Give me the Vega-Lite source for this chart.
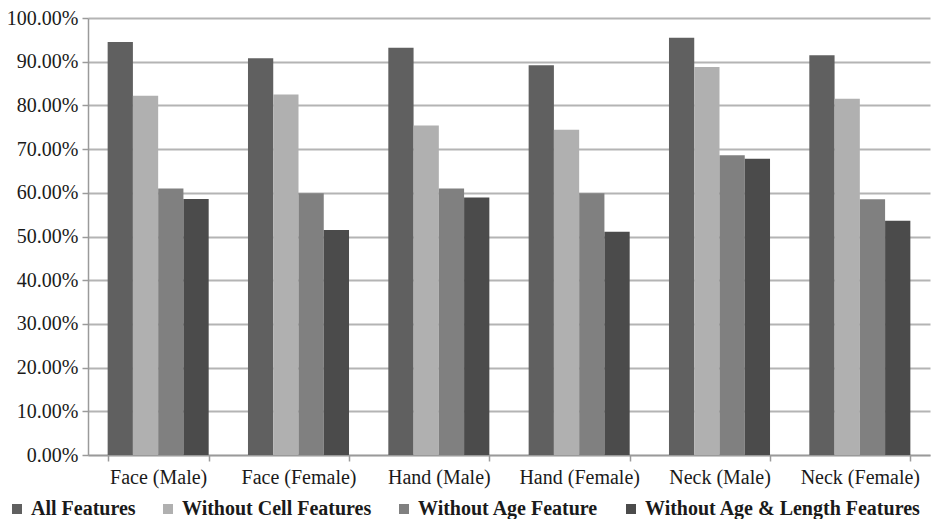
{
  "$schema": "https://vega.github.io/schema/vega-lite/v6.json",
  "autosize": "none",
  "width": 842,
  "height": 437,
  "padding": {"left": 88, "top": 18, "right": 6, "bottom": 64},
  "background": "white",
  "config": {
    "view": {"stroke": null},
    "font": "Liberation Serif"
  },
  "data": {
    "values": [
      {"region": "Face (Male)", "series": "All Features", "value": 0.945},
      {"region": "Face (Male)", "series": "Without Cell Features", "value": 0.822},
      {"region": "Face (Male)", "series": "Without Age Feature", "value": 0.610},
      {"region": "Face (Male)", "series": "Without Age & Length Features", "value": 0.586},
      {"region": "Face (Female)", "series": "All Features", "value": 0.908},
      {"region": "Face (Female)", "series": "Without Cell Features", "value": 0.825},
      {"region": "Face (Female)", "series": "Without Age Feature", "value": 0.599},
      {"region": "Face (Female)", "series": "Without Age & Length Features", "value": 0.515},
      {"region": "Hand (Male)", "series": "All Features", "value": 0.932},
      {"region": "Hand (Male)", "series": "Without Cell Features", "value": 0.754},
      {"region": "Hand (Male)", "series": "Without Age Feature", "value": 0.610},
      {"region": "Hand (Male)", "series": "Without Age & Length Features", "value": 0.589},
      {"region": "Hand (Female)", "series": "All Features", "value": 0.892},
      {"region": "Hand (Female)", "series": "Without Cell Features", "value": 0.744},
      {"region": "Hand (Female)", "series": "Without Age Feature", "value": 0.599},
      {"region": "Hand (Female)", "series": "Without Age & Length Features", "value": 0.511},
      {"region": "Neck (Male)", "series": "All Features", "value": 0.955},
      {"region": "Neck (Male)", "series": "Without Cell Features", "value": 0.888},
      {"region": "Neck (Male)", "series": "Without Age Feature", "value": 0.686},
      {"region": "Neck (Male)", "series": "Without Age & Length Features", "value": 0.678},
      {"region": "Neck (Female)", "series": "All Features", "value": 0.915},
      {"region": "Neck (Female)", "series": "Without Cell Features", "value": 0.815},
      {"region": "Neck (Female)", "series": "Without Age Feature", "value": 0.585},
      {"region": "Neck (Female)", "series": "Without Age & Length Features", "value": 0.536}
    ]
  },
  "mark": {"type": "bar"},
  "encoding": {
    "x": {
      "field": "region",
      "type": "nominal",
      "sort": null,
      "scale": {"paddingInner": 0.28, "paddingOuter": 0.14},
      "axis": {
        "title": null,
        "labelAngle": 0,
        "labelFont": "Liberation Serif",
        "labelFontSize": 20,
        "labelColor": "#1a1a1a",
        "labelPadding": 6,
        "tickBand": "extent",
        "tickSize": 6,
        "tickColor": "#9a9a9a",
        "tickWidth": 1.5,
        "domainColor": "#9a9a9a",
        "domainWidth": 1.5
      }
    },
    "xOffset": {
      "field": "series",
      "type": "nominal",
      "sort": null,
      "scale": {"paddingInner": 0, "paddingOuter": 0}
    },
    "y": {
      "field": "value",
      "type": "quantitative",
      "scale": {"domain": [0, 1], "nice": false},
      "axis": {
        "title": null,
        "format": ".2%",
        "values": [0, 0.1, 0.2, 0.3, 0.4, 0.5, 0.6, 0.7, 0.8, 0.9, 1.0],
        "labelFont": "Liberation Serif",
        "labelFontSize": 20,
        "labelColor": "#1a1a1a",
        "labelPadding": 4,
        "tickSize": 6,
        "tickColor": "#9a9a9a",
        "tickWidth": 1.5,
        "domainColor": "#9a9a9a",
        "domainWidth": 1.5,
        "grid": true,
        "gridColor": "#b4b4b4",
        "gridWidth": 1.8
      }
    },
    "color": {
      "field": "series",
      "type": "nominal",
      "sort": null,
      "scale": {
        "domain": ["All Features", "Without Cell Features", "Without Age Feature", "Without Age & Length Features"],
        "range": ["#606060", "#b0b0b0", "#808080", "#4b4b4b"]
      },
      "legend": {
        "title": null,
        "orient": "none",
        "direction": "horizontal",
        "legendX": -81,
        "legendY": 481,
        "symbolType": "square",
        "symbolSize": 100,
        "symbolStrokeWidth": 0,
        "labelFont": "Liberation Serif",
        "labelFontSize": 20,
        "labelFontWeight": "bold",
        "labelColor": "#1a1a1a",
        "labelOffset": 4,
        "columnPadding": 22,
        "labelLimit": 400
      }
    }
  }
}
